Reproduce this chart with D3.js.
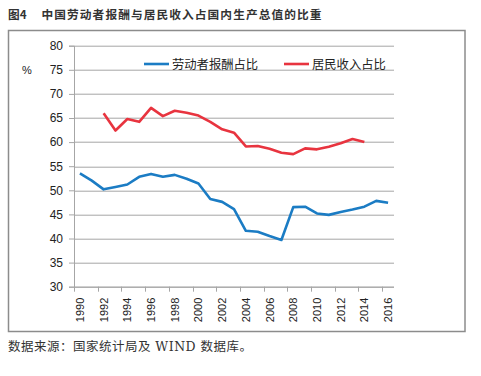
<!DOCTYPE html>
<html>
<head>
<meta charset="utf-8">
<script src="https://cdn.jsdelivr.net/npm/d3@7"></script>
<style>
  body { margin: 0; background: #fff; }
  svg { display: block; }
</style>
</head>
<body>
<div id="chart"></div>
<script>
// Données
const years = d3.range(1990, 2017);
const laborShare = [53.5, 52.0, 50.2, 50.7, 51.2, 52.8, 53.4, 52.8, 53.2, 52.4, 51.4, 48.2, 47.6, 46.1,
  41.6, 41.4, 40.5, 39.7, 46.5, 46.6, 45.2, 44.9, 45.5, 46.0, 46.6, 47.8, 47.4];
const householdYears = d3.range(1992, 2015);
const householdShare = [66.0, 62.4, 64.8, 64.2, 67.1, 65.4, 66.5, 66.1, 65.5, 64.2, 62.65, 61.95,
  59.1, 59.2, 58.6, 57.8, 57.5, 58.7, 58.5, 59.05, 59.75, 60.65, 60.0];
const yTicks = [30, 35, 40, 45, 50, 55, 60, 65, 70, 75, 80];
const xLabelYears = d3.range(1990, 2017, 2);
const seriesNames = ['劳动者报酬占比', '居民收入占比'];
const colors = ['#1b7cc4', '#e8343f'];

const W = 481, H = 376;
const margin = { top: 45.7, left: 74, right: 87, bottom: 89.3 };
const width = W - margin.left - margin.right;
const height = H - margin.top - margin.bottom;

const svg = d3.select('#chart').append('svg')
  .attr('width', W).attr('height', H);

// Titre
svg.append('text')
  .attr('x', 8).attr('y', 19)
  .attr('font-family', '"Noto Sans CJK SC", sans-serif')
  .attr('font-size', 11.7).attr('font-weight', 'bold').attr('fill', '#333')
  .text('图4');
svg.append('text')
  .attr('x', 41.5).attr('y', 19)
  .attr('font-family', '"Noto Sans CJK SC", sans-serif')
  .attr('font-size', 11.7).attr('font-weight', 'bold').attr('fill', '#333')
  .attr('textLength', 280)
  .text('中国劳动者报酬与居民收入占国内生产总值的比重');

// Cadre
svg.append('rect')
  .attr('x', 8.5).attr('y', 30.5).attr('width', 456.5).attr('height', 301)
  .attr('fill', 'none').attr('stroke', '#8c8c8c').attr('stroke-width', 1.5);

// Source
svg.append('text')
  .attr('x', 8).attr('y', 351)
  .attr('font-family', '"DejaVu Serif", "Noto Sans CJK SC", serif')
  .attr('font-size', 12.5).attr('fill', '#333')
  .attr('textLength', 244)
  .text('数据来源：国家统计局及 WIND 数据库。');

const g = svg.append('g')
  .attr('transform', `translate(${margin.left},${margin.top})`);

// Échelles
const x = d3.scaleBand().domain(years).range([0, width]).padding(0);
const y = d3.scaleLinear().domain([30, 80]).range([height, 0]);
const cx = yr => x(yr) + x.bandwidth() / 2;

// Grille
g.selectAll('.grid').data(yTicks).enter().append('line')
  .attr('x1', 0).attr('x2', width)
  .attr('y1', d => Math.round(y(d)) + 0.5).attr('y2', d => Math.round(y(d)) + 0.5)
  .attr('stroke', '#a6a6a6').attr('stroke-width', 1);

// Axe Y
const yAxis = g.append('g')
  .call(d3.axisLeft(y).tickValues(yTicks).tickSize(5).tickPadding(6));
yAxis.select('.domain').attr('stroke', '#a6a6a6');
yAxis.selectAll('.tick line').attr('stroke', '#a6a6a6');
yAxis.selectAll('text')
  .attr('font-family', '"Liberation Sans", Arial, sans-serif')
  .attr('font-size', 12).attr('fill', '#222');

svg.append('text')
  .attr('x', 22).attr('y', 74)
  .attr('font-family', '"Liberation Sans", Arial, sans-serif')
  .attr('font-size', 11).attr('fill', '#222')
  .text('%');

// Axe X : graduations aux bords des catégories, tous les 2 ans
const xAxis = g.append('g').attr('transform', `translate(0,${height})`);
xAxis.append('line')
  .attr('x1', 0).attr('x2', width).attr('y1', 0.5).attr('y2', 0.5)
  .attr('stroke', '#a6a6a6');
xAxis.selectAll('.tick').data(xLabelYears).enter().append('line')
  .attr('x1', d => Math.round(x(d)) + 0.5).attr('x2', d => Math.round(x(d)) + 0.5)
  .attr('y1', 0).attr('y2', 5)
  .attr('stroke', '#a6a6a6');
xAxis.selectAll('.label').data(xLabelYears).enter().append('text')
  .attr('transform', d => `translate(${cx(d) + 4},${11}) rotate(-90)`)
  .attr('text-anchor', 'end')
  .attr('font-family', '"Liberation Sans", Arial, sans-serif')
  .attr('font-size', 11).attr('fill', '#222')
  .text(d => d);

// Courbes
const line = d3.line().x(d => cx(d[0])).y(d => y(d[1]));
g.append('path')
  .datum(years.map((yr, i) => [yr, laborShare[i]]))
  .attr('d', line).attr('fill', 'none')
  .attr('stroke', colors[0]).attr('stroke-width', 2.6).attr('stroke-linejoin', 'round');
g.append('path')
  .datum(householdYears.map((yr, i) => [yr, householdShare[i]]))
  .attr('d', line).attr('fill', 'none')
  .attr('stroke', colors[1]).attr('stroke-width', 2.6).attr('stroke-linejoin', 'round');

// Légende
const legendItems = [
  { name: seriesNames[0], color: colors[0], x: 144 },
  { name: seriesNames[1], color: colors[1], x: 284 }
];
const legend = svg.append('g');
legendItems.forEach(item => {
  legend.append('line')
    .attr('x1', item.x).attr('x2', item.x + 25)
    .attr('y1', 64).attr('y2', 64)
    .attr('stroke', item.color).attr('stroke-width', 2.6);
  legend.append('text')
    .attr('x', item.x + 28).attr('y', 68.5)
    .attr('font-family', '"Noto Sans CJK SC", sans-serif')
    .attr('font-size', 12.3).attr('fill', '#222')
    .text(item.name);
});
</script>
</body>
</html>
